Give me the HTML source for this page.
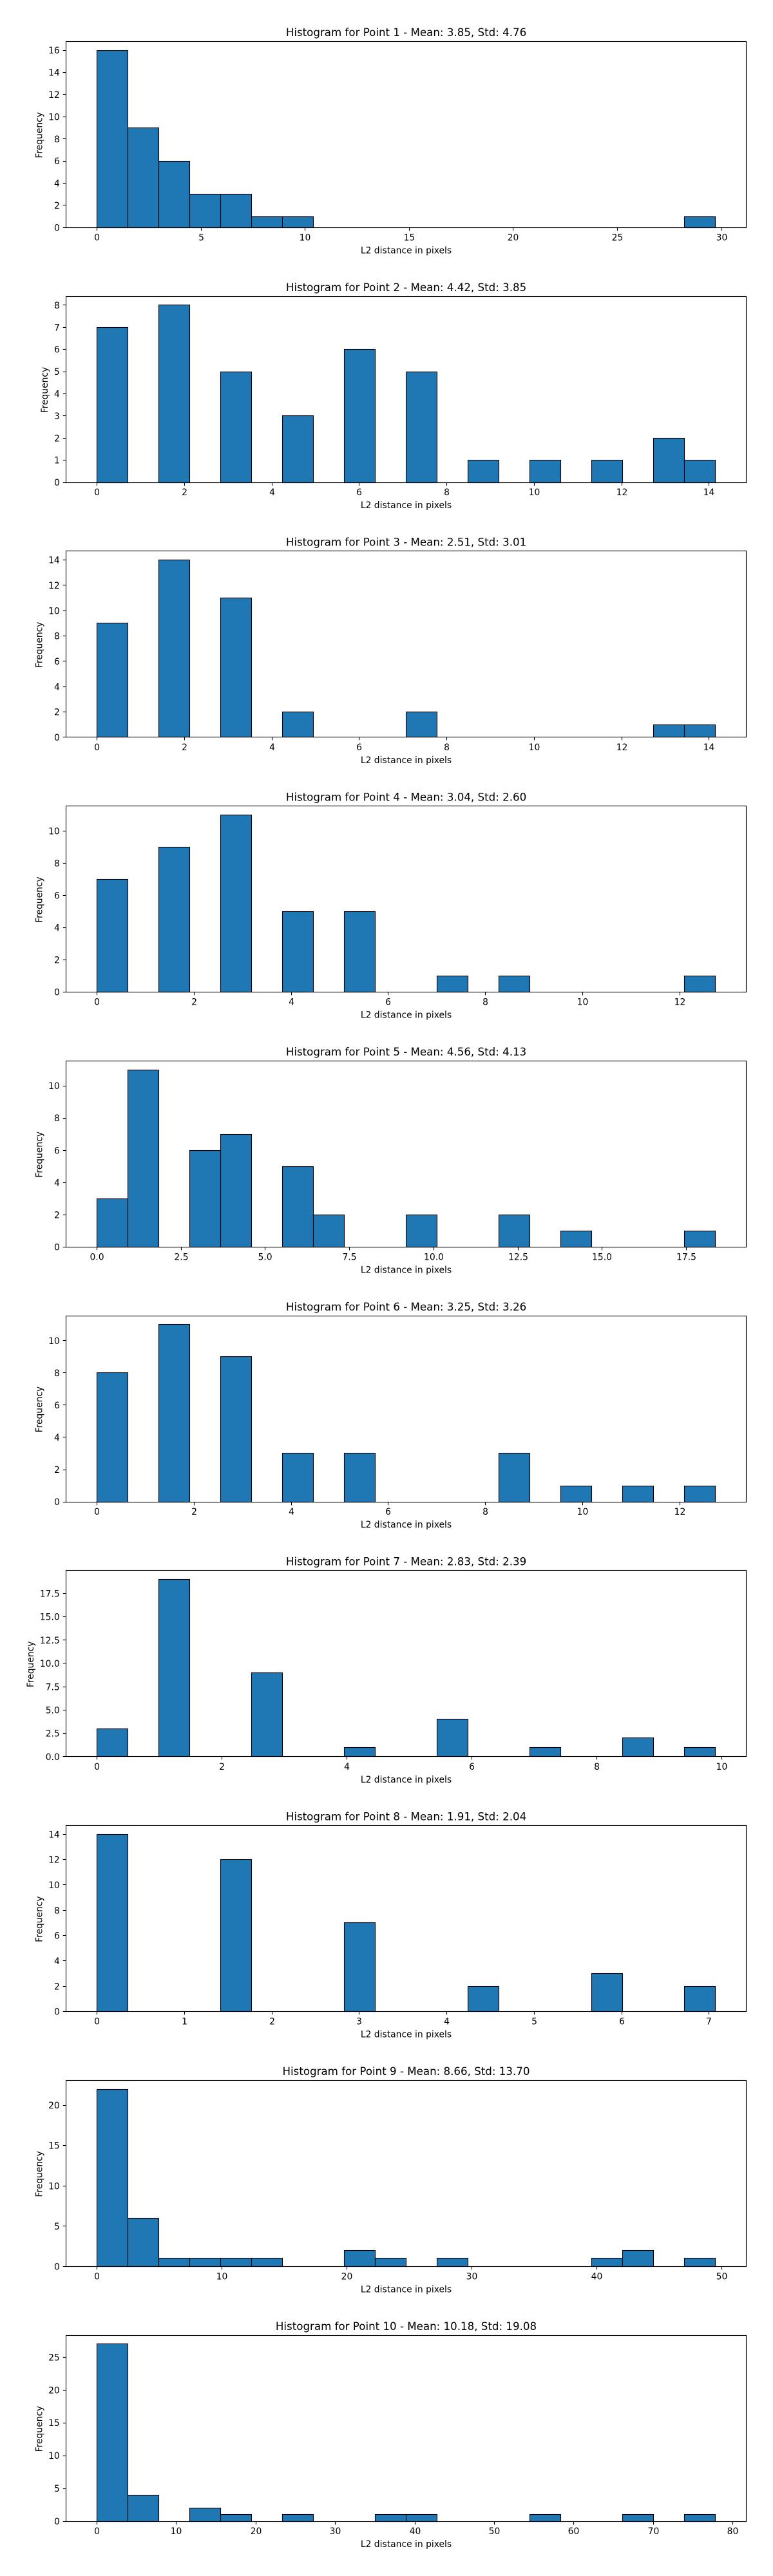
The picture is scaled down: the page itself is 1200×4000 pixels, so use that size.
<!DOCTYPE html>
<html lang="en">
<head>
<meta charset="utf-8">
<title>L2 distance histograms</title>
<style>
html,body{margin:0;padding:0;background:#fff;}
svg{display:block;}
text{font-family:"DejaVu Sans","Liberation Sans",sans-serif;fill:#000;}
</style>
</head>
<body>
<svg id="figure" xmlns="http://www.w3.org/2000/svg" width="1200" height="4000" viewBox="0 0 1200 4000"></svg>
<script>
const titles = [
  "Histogram for Point 1 - Mean: 3.85, Std: 4.76",
  "Histogram for Point 2 - Mean: 4.42, Std: 3.85",
  "Histogram for Point 3 - Mean: 2.51, Std: 3.01",
  "Histogram for Point 4 - Mean: 3.04, Std: 2.60",
  "Histogram for Point 5 - Mean: 4.56, Std: 4.13",
  "Histogram for Point 6 - Mean: 3.25, Std: 3.26",
  "Histogram for Point 7 - Mean: 2.83, Std: 2.39",
  "Histogram for Point 8 - Mean: 1.91, Std: 2.04",
  "Histogram for Point 9 - Mean: 8.66, Std: 13.70",
  "Histogram for Point 10 - Mean: 10.18, Std: 19.08"
];
const xAxisTitle = "L2 distance in pixels";
const yAxisTitle = "Frequency";

// Largest distance per point; the 20 bins span 0 to this value
const maxDistance = [29.7, 14.14, 14.14, 12.73, 18.36, 12.73, 9.9, 7.07, 49.5, 77.8];

// Frequency per bin (20 bins)
const countsP1  = [16,9,6,3,3,1,1,0,0,0,0,0,0,0,0,0,0,0,0,1];
const countsP2  = [7,0,8,0,5,0,3,0,6,0,5,0,1,0,1,0,1,0,2,1];
const countsP3  = [9,0,14,0,11,0,2,0,0,0,2,0,0,0,0,0,0,0,1,1];
const countsP4  = [7,0,9,0,11,0,5,0,5,0,0,1,0,1,0,0,0,0,0,1];
const countsP5  = [3,11,0,6,7,0,5,2,0,0,2,0,0,2,0,1,0,0,0,1];
const countsP6  = [8,0,11,0,9,0,3,0,3,0,0,0,0,3,0,1,0,1,0,1];
const countsP7  = [3,0,19,0,0,9,0,0,1,0,0,4,0,0,1,0,0,2,0,1];
const countsP8  = [14,0,0,0,12,0,0,0,7,0,0,0,2,0,0,0,3,0,0,2];
const countsP9  = [22,6,1,1,1,1,0,0,2,1,0,1,0,0,0,0,1,2,0,1];
const countsP10 = [27,4,0,2,1,0,1,0,0,1,1,0,0,0,1,0,0,1,0,1];
const allCounts = [countsP1,countsP2,countsP3,countsP4,countsP5,countsP6,countsP7,countsP8,countsP9,countsP10];

const xTicksP1  = ["0","5","10","15","20","25","30"];
const xTicksP2  = ["0","2","4","6","8","10","12","14"];
const xTicksP3  = ["0","2","4","6","8","10","12","14"];
const xTicksP4  = ["0","2","4","6","8","10","12"];
const xTicksP5  = ["0.0","2.5","5.0","7.5","10.0","12.5","15.0","17.5"];
const xTicksP6  = ["0","2","4","6","8","10","12"];
const xTicksP7  = ["0","2","4","6","8","10"];
const xTicksP8  = ["0","1","2","3","4","5","6","7"];
const xTicksP9  = ["0","10","20","30","40","50"];
const xTicksP10 = ["0","10","20","30","40","50","60","70","80"];
const allXTicks = [xTicksP1,xTicksP2,xTicksP3,xTicksP4,xTicksP5,xTicksP6,xTicksP7,xTicksP8,xTicksP9,xTicksP10];

const yTicksP1  = ["0","2","4","6","8","10","12","14","16"];
const yTicksP2  = ["0","1","2","3","4","5","6","7","8"];
const yTicksP3  = ["0","2","4","6","8","10","12","14"];
const yTicksP4  = ["0","2","4","6","8","10"];
const yTicksP5  = ["0","2","4","6","8","10"];
const yTicksP6  = ["0","2","4","6","8","10"];
const yTicksP7  = ["0.0","2.5","5.0","7.5","10.0","12.5","15.0","17.5"];
const yTicksP8  = ["0","2","4","6","8","10","12","14"];
const yTicksP9  = ["0","5","10","15","20"];
const yTicksP10 = ["0","5","10","15","20","25"];
const allYTicks = [yTicksP1,yTicksP2,yTicksP3,yTicksP4,yTicksP5,yTicksP6,yTicksP7,yTicksP8,yTicksP9,yTicksP10];

const SVGNS = "http://www.w3.org/2000/svg";
const figure = document.getElementById("figure");
const AX_LEFT = 102.5, AX_RIGHT = 1158.5, AX_HEIGHT = 289, FIRST_TOP = 64.3, PANEL_STEP = 395.75;
const LW = 1.11, TICK_LEN = 4.86, TICK_PAD = 4.86;
const BAR_FILL = "#1f77b4";

function snap(v){ return Math.round(v - 0.5) + 0.5; }

function make(parent, tag, attrs, text){
  const node = document.createElementNS(SVGNS, tag);
  for (const k in attrs) node.setAttribute(k, attrs[k]);
  if (text !== undefined) node.textContent = text;
  parent.appendChild(node);
  return node;
}

function drawPanel(i){
  const counts = allCounts[i];
  const maxD = maxDistance[i];
  const top = FIRST_TOP + PANEL_STEP * i;
  const bottom = top + AX_HEIGHT;
  const yTop = Math.max.apply(null, counts) * 1.05;
  const bins = counts.length;

  const xScale = v => AX_LEFT + (v + 0.05 * maxD) / (1.1 * maxD) * (AX_RIGHT - AX_LEFT);
  const yScale = v => bottom - v / yTop * AX_HEIGHT;

  const panel = make(figure, "g", {});
  
  

  const bg = make(panel, "rect", {x: AX_LEFT, y: top, width: AX_RIGHT - AX_LEFT, height: AX_HEIGHT, fill: "#fff"});
  
  

  counts.forEach(function(c, b){
    const x0 = snap(xScale(b * maxD / bins));
    const x1 = snap(xScale((b + 1) * maxD / bins));
    const y0 = snap(yScale(c));
    const y1 = snap(yScale(0));
    const bar = make(panel, "rect", {x: x0, y: y0, width: x1 - x0, height: y1 - y0, fill: BAR_FILL, stroke: "#000", "stroke-width": LW});
    
    
  });

  const spineL = snap(AX_LEFT), spineR = snap(AX_RIGHT), spineT = snap(top), spineB = snap(bottom);
  const frame = make(panel, "rect", {x: spineL, y: spineT, width: spineR - spineL, height: spineB - spineT, fill: "none", stroke: "#000", "stroke-width": LW});
  
  

  allXTicks[i].forEach(function(lbl){
    const px = snap(xScale(parseFloat(lbl)));
    const tick = make(panel, "line", {x1: px, x2: px, y1: spineB, y2: spineB + TICK_LEN, stroke: "#000", "stroke-width": LW});
    
    
    const t = make(panel, "text", {x: px, y: bottom + 20, "font-size": "13.89", "text-anchor": "middle"}, lbl);
    
    
  });

  let widest = 0;
  allYTicks[i].forEach(function(lbl){
    const py = snap(yScale(parseFloat(lbl)));
    const tick = make(panel, "line", {x1: spineL - TICK_LEN, x2: spineL, y1: py, y2: py, stroke: "#000", "stroke-width": LW});
    
    
    const t = make(panel, "text", {x: AX_LEFT - TICK_LEN - TICK_PAD, y: yScale(parseFloat(lbl)) + 5.1, "font-size": "13.89", "text-anchor": "end"}, lbl);
    
    
    widest = Math.max(widest, t.getComputedTextLength());
  });

  const title = make(panel, "text", {x: (AX_LEFT + AX_RIGHT) / 2, y: top - 8.3, "font-size": "16.67", "text-anchor": "middle"}, titles[i]);
  
  

  const xTitle = make(panel, "text", {x: (AX_LEFT + AX_RIGHT) / 2, y: bottom + 40, "font-size": "13.89", "text-anchor": "middle"}, xAxisTitle);
  
  

  const labelX = AX_LEFT - TICK_LEN - TICK_PAD - widest - 9.86;
  const labelY = (top + bottom) / 2 + 1;
  const yTitle = make(panel, "text", {x: labelX, y: labelY, "font-size": "13.89", "text-anchor": "middle", transform: "rotate(-90 " + labelX + " " + labelY + ")"}, yAxisTitle);
  
  
}

for (let i = 0; i < allCounts.length; i++) drawPanel(i);
</script>
</body>
</html>
